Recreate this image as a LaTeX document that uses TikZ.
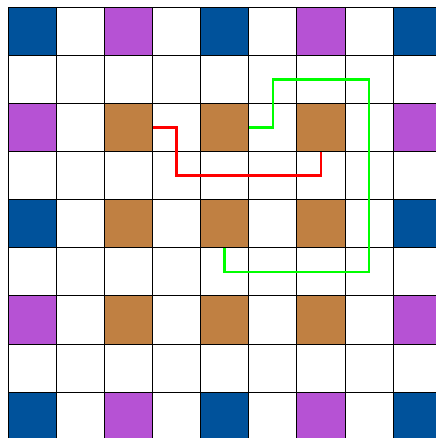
\documentclass[tikz,border=0pt]{standalone}
\definecolor{cblue}{RGB}{0,82,155}
\definecolor{cpurple}{RGB}{182,82,212}
\definecolor{cbrown}{RGB}{192,128,66}
\definecolor{cgreen}{RGB}{0,255,0}
\definecolor{cred}{RGB}{255,0,0}
\tikzset{
  cell/.style={draw=black, line width=0.6pt, minimum size=1cm, inner sep=0pt, outer sep=0pt, fill=white},
  bluecell/.style={cell, fill=cblue},
  purplecell/.style={cell, fill=cpurple},
  browncell/.style={cell, fill=cbrown},
  redpath/.style={draw=cred, line width=1.6pt},
  greenpath/.style={draw=cgreen, line width=1.6pt}
}
\begin{document}
\begin{tikzpicture}
\useasboundingbox[fill=white] (-0.173,0.152) rectangle (8.871,-8.954);
\foreach \r in {0,...,8}{
  \foreach \c in {0,...,8}{
    \pgfmathtruncatemacro{\re}{mod(\r,2)}
    \pgfmathtruncatemacro{\ce}{mod(\c,2)}
    \def\sty{cell}
    \ifnum\re=0 \ifnum\ce=0
      % even row, even column: coloured
      \pgfmathtruncatemacro{\edge}{(\r==0 || \r==8) ? 1 : 0}
      \pgfmathtruncatemacro{\edgec}{(\c==0 || \c==8) ? 1 : 0}
      \ifnum\edge=1
        \pgfmathtruncatemacro{\cm}{mod(\c,4)}
        \ifnum\cm=0 \def\sty{bluecell}\else \def\sty{purplecell}\fi
      \else
        \ifnum\edgec=1
          \pgfmathtruncatemacro{\rm}{mod(\r,4)}
          \ifnum\rm=0 \def\sty{bluecell}\else \def\sty{purplecell}\fi
        \else
          \def\sty{browncell}
        \fi
      \fi
    \fi\fi
    \node[\sty] (c-\r-\c) at (\c+0.5,-\r-0.5) {};
  }
}
\draw[redpath] (c-2-2.east) -- (c-2-3.center) |- (c-3-6.center) -- (c-2-6.south);
\draw[greenpath] (c-2-4.east) -- (c-2-5.center) -- (c-1-5.center) -- (c-1-7.center) -- (c-5-7.center) -- (c-5-4.center) -- (c-4-4.south);
\end{tikzpicture}
\end{document}
